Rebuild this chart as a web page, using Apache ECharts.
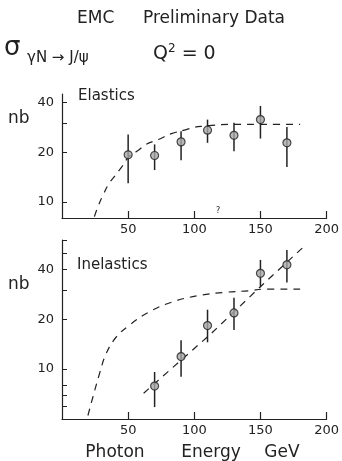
<!DOCTYPE html>
<html>
<head>
<meta charset="utf-8">
<script src="https://cdn.jsdelivr.net/npm/echarts@6/dist/echarts.min.js"></script>
<style>
html, body { margin: 0; background: #fff; }
#main { width: 342px; height: 461px; }
</style>
</head>
<body>
<div id="main"></div>
<script>
// photon energy ticks (GeV)
const xTicks = [50, 100, 150, 200];

// elastics panel
const elE = [50, 70, 90, 110, 130, 150, 170];
const elVal = [19.3, 19.1, 23.1, 27.2, 25.3, 31.5, 22.8];
const elLo = [13.0, 15.6, 17.9, 22.8, 20.3, 24.2, 16.3];
const elHi = [25.6, 22.3, 26.8, 31.5, 30.2, 38.1, 28.4];
const elCurveE = [24.5, 27, 31, 35.7, 40, 45.6, 50.6, 58, 63, 72.9, 82.8, 93.9, 100, 107.6, 113, 130, 155, 180];
const elCurveV = [8.15, 9.3, 11.0, 13.0, 14.4, 16.5, 18.8, 20.6, 22.2, 23.9, 25.9, 27.4, 28.3, 28.8, 29.1, 29.5, 29.5, 29.5];
const elTicks = [10, 20, 30, 40];
const elLabels = [10, 20, 40];

// inelastics panel
const inE = [70, 90, 110, 130, 150, 170];
const inVal = [7.9, 11.9, 18.3, 21.8, 37.8, 42.5];
const inLo = [5.9, 9.0, 14.5, 17.2, 31.1, 33.3];
const inHi = [9.6, 14.9, 22.8, 26.9, 45.5, 52.3];
const inCurveE = [19.6, 23.3, 28.3, 33.2, 40.7, 50.6, 65.4, 82.8, 102.6, 122.5, 142.2, 152, 180];
const inCurveV = [5.25, 6.76, 9.35, 12.3, 15.5, 18.3, 22.0, 25.3, 27.7, 29.0, 29.7, 30.3, 30.3];
const inFitE = [61.7, 112.5, 152.2, 182];
const inFitV = [7.15, 16.3, 32.6, 54];
const inTicks = [5, 6, 7, 8, 10, 20, 30, 40, 50, 60];
const inLabels = [10, 20, 40];

const ink = '#222';
const font = 'DejaVu Sans';

const zip = (a, b) => a.map((v, i) => [v, b[i]]);

let chartInstance = echarts.init(document.getElementById('main'));

function xAxis(gi) {
    return {
        type: 'value', gridIndex: gi, min: 0, max: 200,
        axisLine: { lineStyle: { color: ink, width: 1.2 } },
        axisTick: { inside: true, length: 7, customValues: xTicks, lineStyle: { color: ink, width: 1.2 } },
        axisLabel: { customValues: xTicks, color: ink, fontSize: 13, fontFamily: font, margin: 5 },
        splitLine: { show: false },
    };
}

function yAxis(gi, min, max, ticks, labels) {
    return {
        type: 'log', logBase: 10, gridIndex: gi, min: min, max: max,
        axisLine: { show: true, lineStyle: { color: ink, width: 1.2 } },
        axisTick: { inside: true, length: 5, customValues: ticks, lineStyle: { color: ink, width: 1 } },
        minorTick: { show: false },
        axisLabel: { customValues: labels, color: ink, fontSize: 13, fontFamily: font, margin: 8, padding: [0, 0, 5, 0] },
        splitLine: { show: false },
    };
}

function errBars(xs, lo, hi, idx) {
    return {
        type: 'custom', xAxisIndex: idx, yAxisIndex: idx, z: 2,
        data: xs.map((x, i) => [x, lo[i], hi[i]]),
        renderItem: function (params, api) {
            const a = api.coord([api.value(0), api.value(1)]);
            const b = api.coord([api.value(0), api.value(2)]);
            return {
                type: 'line',
                shape: { x1: a[0], y1: a[1], x2: b[0], y2: b[1] },
                style: { stroke: ink, lineWidth: 1.5 },
            };
        },
    };
}

function points(xs, ys, idx) {
    return {
        type: 'scatter', xAxisIndex: idx, yAxisIndex: idx, z: 3,
        symbol: 'circle', symbolSize: 8,
        itemStyle: { color: '#a8a8a8', borderColor: ink, borderWidth: 1.2 },
        data: zip(xs, ys),
    };
}

function dashed(xs, ys, idx, smooth) {
    return {
        type: 'line', xAxisIndex: idx, yAxisIndex: idx, z: 1,
        smooth: smooth, showSymbol: false, symbol: 'none',
        lineStyle: { color: ink, width: 1.2, type: [7, 6] },
        data: zip(xs, ys),
    };
}

function txt(x, y, text, size, align) {
    return {
        type: 'text', x: x, y: y, silent: true,
        style: {
            text: text, fill: ink, font: size + 'px "' + font + '"',
            textAlign: align || 'left', textVerticalAlign: 'middle',
        },
    };
}

var option = {
    animation: false,
    backgroundColor: '#fff',
    grid: [
        { left: 62, right: 11, top: 94, height: 124 },
        { left: 62, right: 11, top: 240, height: 179 },
    ],
    xAxis: [xAxis(0), xAxis(1)],
    yAxis: [
        yAxis(0, 8, 45, elTicks, elLabels),
        yAxis(1, 5, 60, inTicks, inLabels),
    ],
    series: [
        dashed(elCurveE, elCurveV, 0, 0.4),
        errBars(elE, elLo, elHi, 0),
        points(elE, elVal, 0),
        dashed(inCurveE, inCurveV, 1, 0.4),
        dashed(inFitE, inFitV, 1, false),
        errBars(inE, inLo, inHi, 1),
        points(inE, inVal, 1),
    ],
    graphic: [
        txt(77, 19, 'EMC', 17),
        txt(143, 19, 'Preliminary Data', 17),
        txt(4, 48, 'σ', 26),
        txt(27, 58, 'γN → J/ψ', 15),
        {
            type: 'text', x: 153, y: 54, silent: true,
            style: {
                text: 'Q{sup|2} = 0', fill: ink, font: '19px "' + font + '"',
                textVerticalAlign: 'middle',
                rich: { sup: { fontSize: 12, fontFamily: font, verticalAlign: 'top', padding: [0, 0, 10, 0] } },
            },
        },
        txt(78, 96, 'Elastics', 15),
        txt(77, 265, 'Inelastics', 15),
        txt(8, 119, 'nb', 17),
        txt(8, 285, 'nb', 17),
        txt(218, 211, '?', 8, 'center'),
        txt(115, 453, 'Photon', 17, 'center'),
        txt(211, 453, 'Energy', 17, 'center'),
        txt(282, 453, 'GeV', 17, 'center'),
    ],
};
chartInstance.setOption(option);
</script>
</body>
</html>
